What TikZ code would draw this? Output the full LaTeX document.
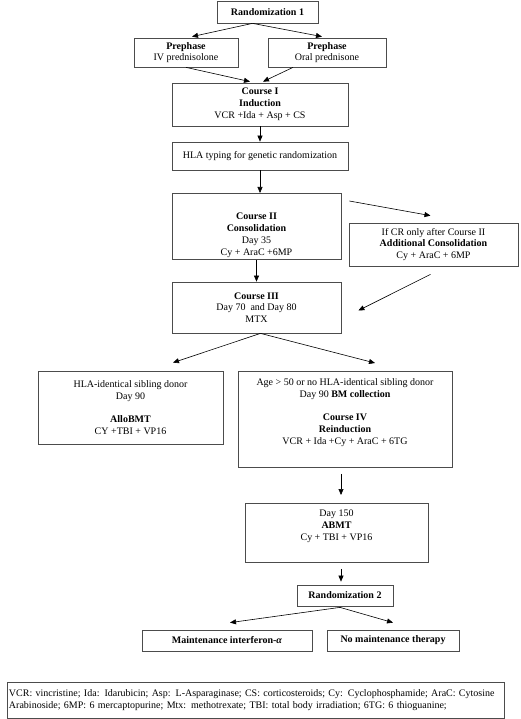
\documentclass[tikz,border=0pt]{standalone}
\usepackage{fontspec}
\setmainfont{Liberation Serif}
\usetikzlibrary{arrows.meta,calc}
\begin{document}
\begin{tikzpicture}[x=1pt,y=-1pt,
  box/.style={draw=black!70,line width=0.75pt,rectangle,align=center,inner sep=0pt,font=\fontsize{10}{11.8}\selectfont},
  arr/.style={-{Triangle[length=6pt,width=5pt]},line width=0.6pt}]
\useasboundingbox (0,0) rectangle (520,719);
\node[box,minimum width=101pt,minimum height=22pt] (NR1) at (267.5,12) {\textbf{Randomization 1}};
\node[box,minimum width=104pt,minimum height=29pt] (NP1) at (186,52.5) {\textbf{Prephase}\\IV prednisolone};
\node[box,minimum width=118pt,minimum height=29pt] (NP2) at (327,52.5) {\textbf{Prephase}\\Oral prednisone};
\node[box,minimum width=176pt,minimum height=43pt] (NC1) at (260,104.5) {\textbf{Course I}\\\textbf{Induction}\\VCR +Ida + Asp + CS};
\node[box,minimum width=176pt,minimum height=28pt] (NHLA) at (260,156) {HLA typing for genetic randomization};
\node[box,minimum width=169pt,anchor=north,text height=62pt,text depth=4pt] (NC2) at (256.5,193) {\textbf{Course II}\\\textbf{Consolidation}\\Day 35\\Cy + AraC +6MP};
\node[box,minimum width=169pt,minimum height=43pt] (NAC) at (433.5,244.5) {If CR only after Course II\\\textbf{Additional Consolidation}\\Cy + AraC + 6MP};
\node[box,minimum width=169pt,minimum height=51pt] (NC3) at (256.5,307.5) {\textbf{Course III}\\Day 70~ and Day 80\\MTX};
\node[box,minimum width=185pt,minimum height=73pt] (NAllo) at (130.5,407.5) {HLA-identical sibling donor\\Day 90\\[11.8pt]\textbf{AlloBMT}\\CY +TBI + VP16};
\node[box,minimum width=214pt,anchor=north,text height=73pt,text depth=23pt] (NAuto) at (345,371) {Age > 50 or no HLA-identical sibling donor\\Day 90 \textbf{BM collection}\\[11.8pt]\textbf{Course IV}\\\textbf{Reinduction}\\VCR + Ida +Cy + AraC + 6TG};
\node[box,minimum width=183pt,anchor=north,text height=37pt,text depth=22pt] (NABMT) at (336.5,503) {Day 150\\\textbf{ABMT}\\Cy + TBI + VP16};
\node[box,minimum width=96pt,minimum height=21pt] (NR2) at (345,595.5) {\textbf{Randomization 2}};
\node[box,minimum width=170pt,minimum height=21pt] (NM1) at (227,640.5) {\textbf{Maintenance interferon-\textit{α}}};
\node[box,minimum width=132pt,minimum height=21pt] (NM2) at (393,640.5) {\textbf{No maintenance therapy}};
\node[box,align=left,inner xsep=2pt,text width=493pt,minimum height=36pt] (NLeg) at (255.5,700) {VCR: vincristine; Ida: Idarubicin; Asp: L-Asparaginase; CS: corticosteroids; Cy: Cyclophosphamide; AraC: Cytosine\\Arabinoside; 6MP: 6 mercaptopurine; Mtx: methotrexate; TBI: total body irradiation; 6TG: 6 thioguanine;};
\draw[arr] ($(NR1.south)+(-15,0)$) -- ($(NP1.north)+(6,-1)$);
\draw[arr] ($(NR1.south)+(-15,0)$) -- ($(NP2.north)+(-5,-1)$);
\draw[arr] (NP1.south) -- ($(NC1.north)+(-10,-1)$);
\draw[arr] ($(NP2.south)+(-34,0)$) -- ($(NC1.north)+(3,-1)$);
\draw[arr] (NC1.south) -- (NHLA.north);
\draw[arr] (NHLA.south) -- (NHLA.south |- NC2.north);
\draw[arr] ($(NC2.north east)+(8,8)$) -- ($(NAC.north)+(-3,-7)$);
\draw[arr] ($(NAC.south)+(-3,8)$) -- ($(NC3.east)+(17,3)$);
\draw[arr] (NC2.south) -- (NC3.north);
\draw[arr] ($(NC3.south)+(4,0)$) -- ($(NAllo.north)+(42.5,-8)$);
\draw[arr] ($(NC3.south)+(4,0)$) -- ($(NAuto.north)+(30,-8)$);
\draw[arr] ($(NAuto.south)+(-4,6)$) -- ($(NABMT.north)+(4.5,-8)$);
\draw[arr] ($(NABMT.south)+(4.5,6)$) -- ($(NR2.north)+(-4,-3)$);
\draw[arr] ($(NR2.south)+(-5,1)$) -- ($(NM1.north)+(3,-7)$);
\draw[arr] ($(NR2.south)+(-5,1)$) -- ($(NM2.north)+(0,-7)$);
\end{tikzpicture}
\end{document}
